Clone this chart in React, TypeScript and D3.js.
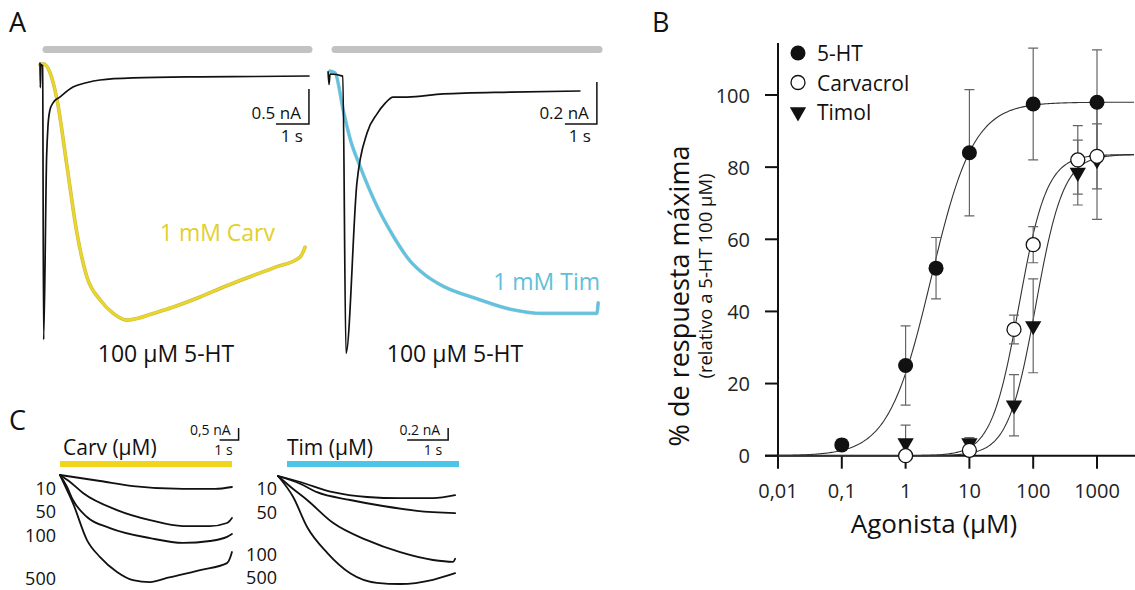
import React from 'react';
import * as d3 from 'd3';

const FONT = '"Open Sans", "Noto Sans", sans-serif';

// ---- panel A, currents as [time s, current nA]
const a1Serotonin: [number, number][] = [[0, 0.04], [0.01, -0.31], [0.03, 0.02], [0.08, 0], [0.11, -3.91], [0.2, -1.3], [0.24, -0.87], [0.3, -0.63], [0.39, -0.53], [0.61, -0.44], [1.0, -0.3], [1.4, -0.24], [1.82, -0.2], [2.82, -0.17], [4.85, -0.155], [6.5, -0.15], [8.15, -0.143]];
const a1Carv: [number, number][] = [[0, 0.02], [0.1, 0.03], [0.2, 0], [0.3, -0.09], [0.52, -0.49], [0.82, -1.44], [1.12, -2.39], [1.42, -3.01], [1.82, -3.34], [2.21, -3.53], [2.64, -3.63], [3.0, -3.6], [3.33, -3.55], [4.0, -3.45], [4.85, -3.3], [5.6, -3.15], [6.36, -3.01], [7.1, -2.88], [7.88, -2.73], [8.03, -2.59]];
const a2Serotonin: [number, number][] = [[-0.06, 0.01], [-0.03, -0.05], [0, 0], [0.4, -0.01], [0.5, -1.33], [0.84, -0.52], [1.16, -0.28], [1.47, -0.19], [1.72, -0.14], [1.97, -0.11], [2.41, -0.11], [3.53, -0.095], [5.63, -0.086], [7.81, -0.081]];
const a2Tim: [number, number][] = [[0, 0.014], [0.16, 0.005], [0.41, -0.17], [0.63, -0.31], [0.94, -0.44], [1.47, -0.63], [1.97, -0.77], [2.5, -0.89], [3.0, -0.96], [3.53, -1.01], [4.59, -1.07], [5.63, -1.12], [6.66, -1.14], [7.5, -1.14], [8.34, -1.14], [8.38, -1.09]];

// ---- panel C, concentration series
const carvConc = ['10', '50', '100', '500'];
const carv10: [number, number][] = [[0, 0], [2.11, -0.25], [3.84, -0.46], [6.47, -0.58], [8.16, -0.58], [9.05, -0.5]];
const carv50: [number, number][] = [[0, 0], [0.53, -0.29], [1.21, -0.75], [3.0, -1.46], [4.74, -1.88], [6.47, -2.13], [7.89, -2.13], [8.79, -2.0], [9.05, -1.79]];
const carv100: [number, number][] = [[0, 0], [0.37, -0.5], [0.68, -1.04], [1.42, -1.75], [2.63, -2.21], [4.74, -2.63], [6.47, -2.83], [7.89, -2.75], [8.79, -2.58], [9.05, -2.46]];
const carv500: [number, number][] = [[0, 0], [0.37, -0.63], [0.68, -1.17], [1.42, -2.71], [2.11, -3.42], [3.0, -4.04], [3.84, -4.38], [4.74, -4.46], [5.63, -4.29], [7.37, -3.96], [8.79, -3.67], [8.95, -3.46], [9.05, -3.21]];
const timConc = ['10', '50', '100', '500'];
const tim10: [number, number][] = [[0, 0], [0.17, -0.03], [0.54, -0.1], [1.34, -0.27], [2.17, -0.35], [2.98, -0.37], [3.78, -0.37], [4.32, -0.32]];
const tim50: [number, number][] = [[0, 0], [0.54, -0.13], [0.95, -0.27], [1.76, -0.4], [2.56, -0.5], [3.39, -0.58], [4.32, -0.62]];
const tim100: [number, number][] = [[0, 0], [0.34, -0.2], [0.71, -0.4], [1.34, -0.78], [2.17, -1.07], [2.98, -1.27], [3.78, -1.4], [4.27, -1.43], [4.32, -1.38]];
const tim500: [number, number][] = [[0, 0], [0.37, -0.35], [0.71, -0.85], [1.2, -1.28], [1.76, -1.62], [2.41, -1.78], [2.98, -1.8], [3.78, -1.73], [4.32, -1.62]];

// ---- panel B, dose response
const conc5HT = [0.1, 1, 3, 10, 100, 1000];
const mean5HT = [3, 25, 52, 84, 97.5, 98];
const err5HT = [1.5, 11, 8.5, 17.5, 15.5, 14.5];
const concDrug = [1, 10, 50, 100, 500, 1000];
const meanCarv = [0, 1.5, 35, 58.5, 82, 83];
const errCarv = [0.5, 1, 4, 5, 9.5, 9];
const meanTim = [3.5, 3.5, 14, 36, 78.5, 82];
const errTim = [5, 1.5, 8.5, 13, 9, 16.5];
// Hill fits: top, EC50, slope
const fit5HT = [98, 2.5, 1.3];
const fitCarv = [83.5, 60, 2];
const fitTim = [83.5, 110, 2];
const xTicks = [0.01, 0.1, 1, 10, 100, 1000];
const xTickLabels = ['0,01', '0,1', '1', '10', '100', '1000'];
const yTicks = [0, 20, 40, 60, 80, 100];
const legendNames = ['5-HT', 'Carvacrol', 'Timol'];

type Sc = (v: number) => number;

function Trace({ data, x, y, color, width, edge }: { data: [number, number][]; x: Sc; y: Sc; color: string; width: number; edge?: string }) {
  const line = d3.line<[number, number]>().x(d => x(d[0])).y(d => y(d[1])).curve(d3.curveMonotoneX);
  const d = line(data) || '';
  return (
    <g fill="none" strokeLinejoin="round" strokeLinecap="round">
      {edge && <path d={d} stroke={edge} strokeWidth={width + 1.2} />}
      <path d={d} stroke={color} strokeWidth={width} />
    </g>
  );
}

function ScaleBar({ x, y, t0, i0, dt, di, label, tLabel, size }: { x: Sc; y: Sc; t0: number; i0: number; dt: number; di: number; label: string; tLabel: string; size: number }) {
  const xr = x(t0), xl = x(t0 - dt), yb = y(i0), yt = y(i0 + di);
  return (
    <g>
      <path d={`M${xr},${yt}V${yb}H${xl}`} fill="none" stroke="#111" strokeWidth={1.5} />
      <text x={xr - 8} y={yb - 5} textAnchor="end" fontSize={size} fill="#111">{label}</text>
      <text x={xr - 6} y={yb + size + 1} textAnchor="end" fontSize={size} fill="#111">{tLabel}</text>
    </g>
  );
}

function hill(p: number[], c: number) {
  return p[0] / (1 + Math.pow(p[1] / c, p[2]));
}

export default function App() {
  // panel A scales
  const xA1 = d3.scaleLinear().domain([0, 1]).range([40, 73]);
  const yA1 = d3.scaleLinear().domain([0, -1]).range([66, 136]);
  const xA2 = d3.scaleLinear().domain([0, 1]).range([330, 362]);
  const yA2 = d3.scaleLinear().domain([0, -1]).range([74, 284]);
  // panel C scales
  const xC1 = d3.scaleLinear().domain([0, 1]).range([60, 79]);
  const yC1 = d3.scaleLinear().domain([0, -1]).range([475, 499]);
  const xC2 = d3.scaleLinear().domain([0, 1]).range([278, 319]);
  const yC2 = d3.scaleLinear().domain([0, -1]).range([476, 536]);
  // panel B scales
  const xB = d3.scaleLog().domain([0.01, 1000]).range([778, 1097]);
  const yB = d3.scaleLinear().domain([0, 100]).range([455.7, 95]);
  const x0 = xB(0.01);
  const y0 = yB(0);

  const curveX = d3.range(-2, 3.6, 0.02).map(e => Math.pow(10, e));
  const fitLine = (p: number[]) =>
    d3.line<number>().x(c => xB(c)).y(c => yB(hill(p, c)))(curveX) || '';

  const errBars = (cs: number[], ms: number[], es: number[], key: string) =>
    cs.map((c, i) => {
      const cx = xB(c);
      const top = yB(ms[i] + es[i]);
      const bot = yB(Math.max(ms[i] - es[i], -1));
      return (
        <path key={key + i} d={`M${cx},${top}V${bot}M${cx - 5},${top}H${cx + 5}M${cx - 5},${bot}H${cx + 5}`}
          stroke="#666" strokeWidth={1.2} fill="none" />
      );
    });

  const tri = d3.symbol().type(d3.symbolTriangle).size(115)() || '';

  const cTracesL = [carv10, carv50, carv100, carv500];
  const cTracesR = [tim10, tim50, tim100, tim500];
  const cLabelYL = [488, 511, 535, 578];
  const cLabelYR = [488, 512, 554, 577];

  return (
    <svg width={1135} height={590} style={{ position: 'absolute', left: 0, top: 0, background: '#fff' }} fontFamily={FONT}>
      {/* panel letters */}
      <text x={9} y={32} fontSize={27} fill="#111">A</text>
      <text x={652} y={32} fontSize={27} fill="#111">B</text>
      <text x={9} y={430} fontSize={27} fill="#111">C</text>

      {/* ---------- panel A ---------- */}
      <line x1={46} x2={309} y1={49.5} y2={49.5} stroke="#c2c2c2" strokeWidth={7} strokeLinecap="round" />
      <line x1={335} x2={599} y1={49.5} y2={49.5} stroke="#c2c2c2" strokeWidth={7} strokeLinecap="round" />

      <Trace data={a1Carv} x={xA1} y={yA1} color="#ecd727" width={2.4} edge="#c8bb4a" />
      <Trace data={a1Serotonin} x={xA1} y={yA1} color="#111" width={1.7} />
      <Trace data={a2Tim} x={xA2} y={yA2} color="#5cc4e2" width={2.4} edge="#93c3d0" />
      <Trace data={a2Serotonin} x={xA2} y={yA2} color="#111" width={1.7} />

      <ScaleBar x={xA1} y={yA1} t0={8.15} i0={-0.83} dt={1} di={0.5} label="0.5 nA" tLabel="1 s" size={17} />
      <ScaleBar x={xA2} y={yA2} t0={8.34} i0={-0.238} dt={1} di={0.2} label="0.2 nA" tLabel="1 s" size={17} />

      <text x={275} y={241} textAnchor="end" fontSize={23} fill="#e2d02c">1 mM Carv</text>
      <text x={600} y={290} textAnchor="end" fontSize={23} fill="#5dc0da">1 mM Tim</text>
      <text x={166} y={362} textAnchor="middle" fontSize={23} fill="#111">100 µM 5-HT</text>
      <text x={455} y={362} textAnchor="middle" fontSize={23} fill="#111">100 µM 5-HT</text>

      {/* ---------- panel C ---------- */}
      <text x={63} y={455} fontSize={21} fill="#111">Carv (µM)</text>
      <text x={287} y={455} fontSize={21} fill="#111">Tim (µM)</text>
      <rect x={60} y={461} width={172} height={6} fill="#f0d51c" />
      <rect x={287} y={461} width={172} height={6} fill="#4ec4e6" />
      <ScaleBar x={xC1} y={yC1} t0={9.4} i0={1.46} dt={1} di={0.5} label="0,5 nA" tLabel="1 s" size={14} />
      <ScaleBar x={xC2} y={yC2} t0={4.15} i0={0.6} dt={1} di={0.2} label="0.2 nA" tLabel="1 s" size={14} />
      {cTracesL.map((d, i) => <Trace key={'cl' + i} data={d} x={xC1} y={yC1} color="#111" width={1.8} />)}
      {cTracesR.map((d, i) => <Trace key={'cr' + i} data={d} x={xC2} y={yC2} color="#111" width={1.8} />)}
      {carvConc.map((t, i) => (
        <text key={'lc' + i} x={56} y={cLabelYL[i]} dominantBaseline="central" textAnchor="end" fontSize={18} fill="#111">{t}</text>
      ))}
      {timConc.map((t, i) => (
        <text key={'lt' + i} x={277} y={cLabelYR[i]} dominantBaseline="central" textAnchor="end" fontSize={18} fill="#111">{t}</text>
      ))}

      {/* ---------- panel B ---------- */}
      <g>
        <line x1={x0} x2={x0} y1={y0} y2={yB(114.4)} stroke="#111" strokeWidth={2} />
        <line x1={x0 - 13} x2={1135} y1={y0} y2={y0} stroke="#111" strokeWidth={2} />
        {yTicks.map(t => (
          <g key={'yt' + t}>
            <line x1={x0 - 13} x2={x0} y1={yB(t)} y2={yB(t)} stroke="#111" strokeWidth={2} />
            <text x={x0 - 28} y={yB(t)} textAnchor="end" dominantBaseline="central" fontSize={20} fill="#222">{t}</text>
          </g>
        ))}
        {xTicks.map((t, i) => (
          <g key={'xt' + i}>
            <line x1={xB(t)} x2={xB(t)} y1={y0} y2={y0 + 13} stroke="#111" strokeWidth={2} />
            <text x={xB(t)} y={y0 + 35} textAnchor="middle" dominantBaseline="central" fontSize={20} fill="#222">{xTickLabels[i]}</text>
          </g>
        ))}
        <text x={934} y={523} textAnchor="middle" dominantBaseline="central" fontSize={26} fill="#111">Agonista (µM)</text>
        <text transform="translate(678,296) rotate(-90)" textAnchor="middle" dominantBaseline="central" fontSize={27} fill="#111">% de respuesta máxima</text>
        <text transform="translate(704,276) rotate(-90)" textAnchor="middle" dominantBaseline="central" fontSize={18.5} fill="#111">(relativo a 5-HT 100 µM)</text>

        <path d={fitLine(fit5HT)} fill="none" stroke="#333" strokeWidth={1.1} />
        <path d={fitLine(fitCarv)} fill="none" stroke="#333" strokeWidth={1.1} />
        <path d={fitLine(fitTim)} fill="none" stroke="#333" strokeWidth={1.1} />

        {errBars(conc5HT, mean5HT, err5HT, 'e5')}
        {errBars(concDrug, meanCarv, errCarv, 'ec')}
        {errBars(concDrug, meanTim, errTim, 'et')}

        {concDrug.map((c, i) => (
          <path key={'tm' + i} d={tri} transform={`translate(${xB(c)},${yB(meanTim[i])}) rotate(180)`} fill="#111" />
        ))}
        {concDrug.map((c, i) => (
          <circle key={'cv' + i} cx={xB(c)} cy={yB(meanCarv[i])} r={7} fill="#fff" stroke="#111" strokeWidth={1.3} />
        ))}
        {conc5HT.map((c, i) => (
          <circle key={'ht' + i} cx={xB(c)} cy={yB(mean5HT[i])} r={7.5} fill="#111" />
        ))}

        {legendNames.map((n, i) => {
          const ly = 53 + i * 29.5;
          return (
            <g key={'lg' + i}>
              {i === 0 && <circle cx={798} cy={ly} r={7.5} fill="#111" />}
              {i === 1 && <circle cx={798} cy={ly} r={7} fill="#fff" stroke="#111" strokeWidth={1.3} />}
              {i === 2 && <path d={tri} transform={`translate(798,${ly}) rotate(180)`} fill="#111" />}
              <text x={817} y={ly} dominantBaseline="central" fontSize={21} fill="#111">{n}</text>
            </g>
          );
        })}
      </g>
    </svg>
  );
}
